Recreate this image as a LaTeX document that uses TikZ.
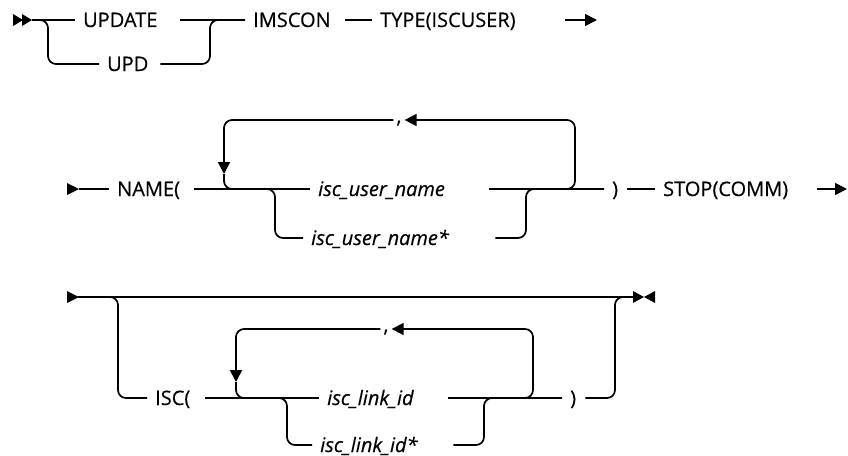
\documentclass[tikz,border=0pt]{standalone}
\usepackage{fontspec}
\setmainfont{Open Sans}[FakeBold=0.4]
\usepackage{tikz}
\usetikzlibrary{positioning, arrows.meta, calc}

\begin{document}
\begin{tikzpicture}[
            x=1pt, y=-1pt,
            rail/.style={line width=1.7pt, rounded corners=8pt},
            tip/.style={-{Triangle[length=12pt,width=12pt]}},
            kw/.style={anchor=west, inner xsep=8pt, inner ysep=0pt, text height=14pt, text depth=0pt,
                       align=left, font=\fontsize{20}{22}\selectfont},
            var/.style={kw, font=\fontsize{20}{22}\selectfont\itshape},
            sep/.style={anchor=base, inner xsep=3pt, inner ysep=0pt, font=\fontsize{20}{22}\selectfont},
            railstart/.pic={\fill (0,-6) -- (12,0) -- (0,6) -- cycle;},
            railstartd/.pic={\fill (0,-6) -- (10,0) -- (0,6) -- cycle; \fill (9,-6) -- (19,0) -- (9,6) -- cycle;},
            railend/.pic={\fill (0,-6) -- (11,0) -- (0,6) -- cycle; \fill (22,-6) -- (11,0) -- (22,6) -- cycle;}
        ]
            \useasboundingbox (0,0) rectangle (848,455);

            \pic at (13,20) {railstartd};
            \coordinate (r1s) at (32,20);
            \coordinate (r1a) at (48,64);
            \coordinate (r1b) at (210,20);
            \coordinate (r1e) at (597,20);
            \node[kw, text width=89pt] (update) at (75,20) {UPDATE};
            \node[kw, text width=45pt] (upd) at (99,64) {UPD};
            \node[kw, text width=84pt] (imscon) at (245,20) {IMSCON};
            \node[kw, text width=177pt] (type) at (372,20) {TYPE(ISCUSER)};

            \draw[rail] (r1s) -- (update.west);
            \draw[rail] (r1s) -| (r1a) -- (upd.west);
            \draw[rail] (update.east) -- (imscon.west);
            \draw[rail] (upd.east) -| (r1b) -- (imscon.west);
            \draw[rail] (imscon.east) -- (type.west);
            \draw[rail, tip] (type.east) -- (r1e);

            \pic at (67,189) {railstart};
            \coordinate (r2s) at (79,189);
            \coordinate (r2e) at (847,189);
            \node[kw, text width=69pt] (name) at (109,189) {NAME(};
            \node[var, text width=163pt] (user) at (310,189) {isc\_user\_name};
            \node[var, text width=176pt] (userw) at (303,238) {isc\_user\_name*};
            \node[kw, text width=7pt] (r2close) at (604,189) {)};
            \node[kw, text width=146pt] (stop) at (655,189) {STOP(COMM)};
            \node[sep] (r2comma) at (399,123) {,};
            \coordinate (l2a) at (224,174);
            \coordinate (l2c) at (244,189);
            \coordinate (l2d) at (557,189);
            \coordinate (l2e) at (575,120);
            \coordinate (l2f) at (275,189);
            \coordinate (l2g) at (526,189);

            \draw[rail] (r2s) -- (name.west);
            \draw[rail] (name.east) -- (user.west);
            \draw[rail] (user.east) -- (r2close.west);
            \draw[rail] (r2close.east) -- (stop.west);
            \draw[rail, tip] (stop.east) -- (r2e);
            \draw[rail, tip] (r2comma.west |- l2e) -| (l2a);
            \draw[rail] (l2a) |- (l2c);
            \draw[rail, tip] (l2d) -| (l2e) -- (r2comma.east |- l2e);
            \draw[rail] (name.east) -- (l2f) |- (userw.west);
            \draw[rail] (userw.east) -| (l2g) -- (r2close.west);

            \pic at (67,297) {railstart};
            \pic at (633,297) {railend};
            \coordinate (r3s) at (78,297);
            \coordinate (r3e) at (633,297);
            \coordinate (b3a) at (118,398);
            \coordinate (b3b) at (615,297);
            \node[kw, text width=42pt] (isc) at (147,398) {ISC(};
            \node[var, text width=113pt] (link) at (319,398) {isc\_link\_id};
            \node[var, text width=125pt] (linkw) at (312,445) {isc\_link\_id*};
            \node[kw, text width=7pt] (r3close) at (562,398) {)};
            \node[sep] (r3comma) at (386,332) {,};
            \coordinate (l3a) at (236,382);
            \coordinate (l3c) at (256,398);
            \coordinate (l3d) at (515,398);
            \coordinate (l3e) at (533,329);
            \coordinate (l3f) at (287,398);
            \coordinate (l3g) at (484,398);

            \draw[rail] (r3s) -- (r3e);
            \draw[rail] (r3s) -| (b3a) -- (isc.west);
            \draw[rail] (isc.east) -- (link.west);
            \draw[rail] (link.east) -- (r3close.west);
            \draw[rail, tip] (r3comma.west |- l3e) -| (l3a);
            \draw[rail] (l3a) |- (l3c);
            \draw[rail, tip] (l3d) -| (l3e) -- (r3comma.east |- l3e);
            \draw[rail] (isc.east) -- (l3f) |- (linkw.west);
            \draw[rail] (linkw.east) -| (l3g) -- (r3close.west);
            \draw[rail] (r3close.east) -| (b3b) -- (r3e);
        \end{tikzpicture}
\end{document}
